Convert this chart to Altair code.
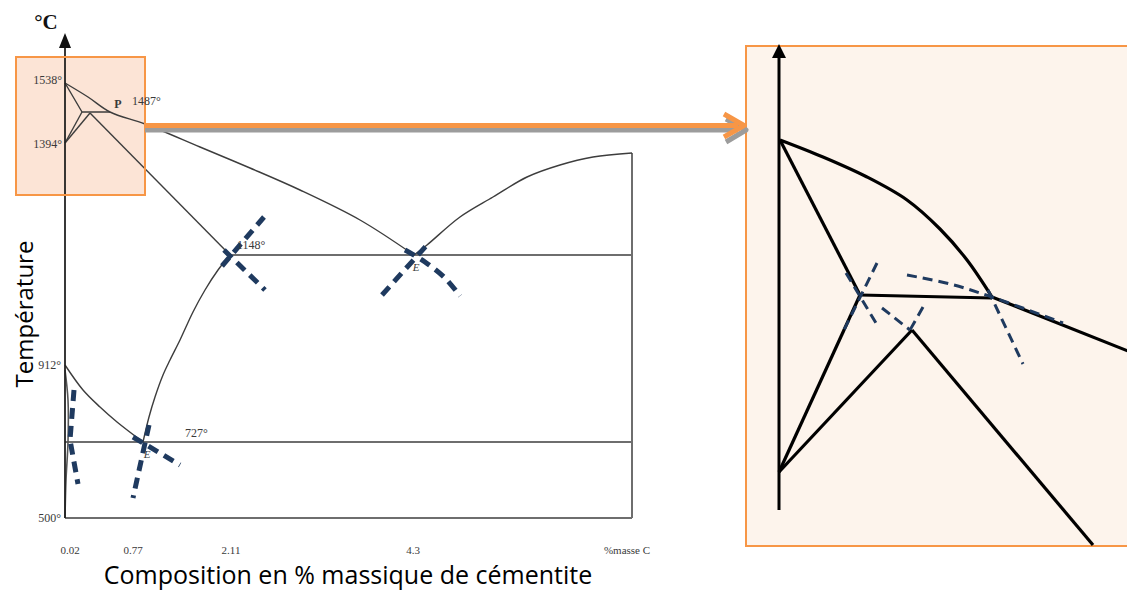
import altair as alt
import pandas as pd

# ---------------- Diagram geometry (image pixel coordinates) ----------------
# Left phase diagram
axis_left_x = [65, 65]
axis_left_y = [518, 46]
arrowhead_left_x = [59, 65, 71]
arrowhead_left_y = [48, 33, 48]

liquidus_left_x = [65, 88, 110, 145, 200, 250, 300, 360, 414]
liquidus_left_y = [83, 97, 112, 124, 147, 168, 190, 220, 255]
liquidus_right_x = [414, 427, 460, 493, 527, 560, 593, 632]
liquidus_right_y = [255, 245, 217, 197, 177, 165, 157, 153]
right_edge_x = [632, 632]
right_edge_y = [153, 518]
eutectic_x = [230, 632]
eutectic_y = [255, 255]
eutectoid_x = [65, 632]
eutectoid_y = [442, 442]
bottom_x = [65, 632]
bottom_y = [518, 518]
acm_x = [230, 218, 205, 193, 180, 170, 163, 155, 149, 143]
acm_y = [255, 270, 290, 312, 340, 360, 375, 397, 417, 442]
a3_x = [65, 83, 100, 117, 143]
a3_y = [365, 390, 407, 422, 442]
ferrite_x = [65, 68, 68, 66, 65]
ferrite_y = [370, 400, 442, 480, 518]
solidus_x = [90, 230]
solidus_y = [113, 255]
delta1_x = [65, 82, 110]
delta1_y = [83, 112, 112]
delta2_x = [65, 82]
delta2_y = [143, 112]
delta3_x = [65, 90]
delta3_y = [143, 113]

# thick dashed markers (left)
dl1_x = [74, 70, 78]; dl1_y = [390, 440, 484]
dl2_x = [149, 133]; dl2_y = [425, 498]
dl3_x = [133, 180]; dl3_y = [437, 465]
dl4_x = [222, 264]; dl4_y = [266, 217]
dl5_x = [224, 265]; dl5_y = [250, 290]
dl6_x = [382, 427]; dl6_y = [295, 245]
dl7_x = [405, 425, 445, 460]; dl7_y = [250, 262, 278, 296]

# orange zoom box, arrow
box_left = [16, 145, 57, 195]
box_right = [746, 1130, 46, 546]
arrow_x = [145, 738]; arrow_y = [125.5, 125.5]
arrow_sh_x = [145, 738]; arrow_sh_y = [130, 130]
chev_x = [724, 744, 724]; chev_y = [114, 125.5, 137]
chev_sh_x = [726, 746, 726]; chev_sh_y = [119, 130, 142]

# Right (zoomed) panel
axis_right_x = [779, 779]
axis_right_y = [510, 56]
arrowhead_right_x = [772, 779, 786]
arrowhead_right_y = [58, 44, 58]
r_curve_x = [780, 823, 867, 907, 940, 967, 992]
r_curve_y = [140, 157, 177, 200, 229, 260, 297]
r_out_x = [992, 1133]; r_out_y = [297, 353]
r_td_x = [780, 860]; r_td_y = [140, 295]
r_dq_x = [860, 992]; r_dq_y = [295, 298]
r_db_x = [860, 779]; r_db_y = [295, 472]
r_bc_x = [779, 912]; r_bc_y = [472, 330]
r_ce_x = [912, 1093]; r_ce_y = [330, 545]

dr1_x = [877, 843]; dr1_y = [263, 332]
dr2_x = [846, 876]; dr2_y = [273, 323]
dr3_x = [882, 910]; dr3_y = [308, 330]
dr4_x = [923, 910]; dr4_y = [307, 330]
dr5_x = [907, 950, 992, 1063]; dr5_y = [275, 284, 297, 323]
dr6_x = [988, 1023]; dr6_y = [290, 364]

# text labels
serif_labels = ["1538°", "1394°", "1487°", "1148°", "912°", "727°", "500°"]
serif_x = [62, 62, 132, 237, 61, 185, 61]
serif_y = [80, 144, 101, 245, 365, 433, 518]
serif_align = ["right", "right", "left", "left", "right", "left", "right"]
tick_labels = ["0.02", "0.77", "2.11", "4.3", "%masse C"]
tick_x = [70, 133, 231, 413, 627]
tick_y = [551, 551, 551, 551, 551]


def poly(name, xs, ys):
    return pd.DataFrame({"id": name, "o": range(len(xs)), "x": xs, "y": ys})


X = alt.X("x:Q", scale=alt.Scale(domain=[8, 1127]), axis=None)
Y = alt.Y("y:Q", scale=alt.Scale(domain=[8, 591], reverse=True), axis=None)


def lines(frames, color, width, dash=None, cap="butt", interp="linear"):
    df = pd.concat(frames, ignore_index=True)
    kw = dict(color=color, strokeWidth=width, strokeCap=cap, strokeJoin="round",
              interpolate=interp)
    if dash:
        kw["strokeDash"] = dash
    return alt.Chart(df).mark_line(**kw).encode(x=X, y=Y, detail="id:N", order="o:Q")


def tri(xs, ys, color):
    df = pd.DataFrame({"x": xs, "y": ys, "y2": [ys[0]] * len(xs)})
    return alt.Chart(df).mark_area(color=color, interpolate="linear").encode(
        x=X, y=Y, y2="y2:Q")


def rect(b, fill, stroke, sw):
    df = pd.DataFrame({"x": [b[0]], "x2": [b[1]], "y": [b[2]], "y2": [b[3]]})
    return alt.Chart(df).mark_rect(fill=fill, stroke=stroke, strokeWidth=sw).encode(
        x=X, x2="x2:Q", y=Y, y2="y2:Q")


def rect_border(b, stroke, sw):
    df = pd.DataFrame({"x": [b[0]], "x2": [b[1]], "y": [b[2]], "y2": [b[3]]})
    return alt.Chart(df).mark_rect(filled=False, stroke=stroke, strokeWidth=sw).encode(
        x=X, x2="x2:Q", y=Y, y2="y2:Q")


ORANGE = "#f79646"
NAVY = "#1f3a5f"

layers = []
layers.append(rect(box_left, "#fce4d6", ORANGE, 2))
layers.append(rect(box_right, "#fdf4ec", ORANGE, 2))

# straight thin lines of the left diagram
layers.append(lines([
    poly("edge", right_edge_x, right_edge_y),
    poly("eut", eutectic_x, eutectic_y),
    poly("eutd", eutectoid_x, eutectoid_y),
    poly("bot", bottom_x, bottom_y),
], "#6e6e6e", 2))
layers.append(lines([
    poly("sol", solidus_x, solidus_y),
    poly("d1", delta1_x, delta1_y),
    poly("d2", delta2_x, delta2_y),
    poly("d3", delta3_x, delta3_y),
], "#3d3d3d", 1.4))
# curved lines of the left diagram
layers.append(lines([
    poly("liqL", liquidus_left_x, liquidus_left_y),
    poly("liqR", liquidus_right_x, liquidus_right_y),
    poly("acm", acm_x, acm_y),
    poly("a3", a3_x, a3_y),
], "#3d3d3d", 1.4, interp="catmull-rom"))
layers.append(lines([poly("fer", ferrite_x, ferrite_y)], "#555555", 1.6, interp="catmull-rom"))
layers.append(lines([poly("axL", axis_left_x, axis_left_y)], "#222222", 1.8))
layers.append(tri(arrowhead_left_x, arrowhead_left_y, "#111111"))
layers.append(rect_border(box_left, ORANGE, 2))

# big orange arrow with grey shadow
layers.append(lines([poly("ash", arrow_sh_x, arrow_sh_y), poly("csh", chev_sh_x, chev_sh_y)],
                    "#9c9c9c", 5))
layers.append(lines([poly("arr", arrow_x, arrow_y), poly("chev", chev_x, chev_y)],
                    ORANGE, 5))

# left thick dashes
layers.append(lines([
    poly("l1", dl1_x, dl1_y), poly("l2", dl2_x, dl2_y), poly("l3", dl3_x, dl3_y),
    poly("l4", dl4_x, dl4_y), poly("l5", dl5_x, dl5_y), poly("l6", dl6_x, dl6_y),
], NAVY, 5, dash=[11, 7]))
layers.append(lines([poly("l7", dl7_x, dl7_y)], NAVY, 5, dash=[11, 7], interp="catmull-rom"))

# right panel
layers.append(lines([poly("axR", axis_right_x, axis_right_y)], "#000000", 3))
layers.append(tri(arrowhead_right_x, arrowhead_right_y, "#000000"))
layers.append(lines([poly("rc", r_curve_x, r_curve_y)], "#000000", 3.2, interp="catmull-rom"))
layers.append(lines([
    poly("ro", r_out_x, r_out_y),
    poly("rtd", r_td_x, r_td_y), poly("rdq", r_dq_x, r_dq_y),
    poly("rdb", r_db_x, r_db_y), poly("rbc", r_bc_x, r_bc_y),
    poly("rce", r_ce_x, r_ce_y),
], "#000000", 3.2))
layers.append(lines([
    poly("r1", dr1_x, dr1_y), poly("r2", dr2_x, dr2_y), poly("r3", dr3_x, dr3_y),
    poly("r4", dr4_x, dr4_y), poly("r6", dr6_x, dr6_y),
], NAVY, 3, dash=[10, 6]))
layers.append(lines([poly("r5", dr5_x, dr5_y)], NAVY, 3, dash=[10, 6], interp="catmull-rom"))

# texts
serif_df = pd.DataFrame({"t": serif_labels, "x": serif_x, "y": serif_y, "a": serif_align})
for al in ["left", "right"]:
    layers.append(alt.Chart(serif_df[serif_df.a == al]).mark_text(
        font="Liberation Serif", fontSize=12, color="#3a3a3a", align=al, baseline="middle"
    ).encode(x=X, y=Y, text="t:N"))

tick_df = pd.DataFrame({"t": tick_labels, "x": tick_x, "y": tick_y})
layers.append(alt.Chart(tick_df).mark_text(
    font="Liberation Serif", fontSize=11, color="#3a3a3a", align="center", baseline="middle"
).encode(x=X, y=Y, text="t:N"))

small_df = pd.DataFrame({"t": ["P", "E", "E"], "x": [118, 416, 147], "y": [104, 268, 455]})
layers.append(alt.Chart(small_df.iloc[[0]]).mark_text(
    font="Liberation Serif", fontSize=12, fontWeight="bold", color="#3a3a3a", align="center", baseline="middle"
).encode(x=X, y=Y, text="t:N"))
layers.append(alt.Chart(small_df.iloc[1:]).mark_text(
    font="Liberation Serif", fontSize=11, fontStyle="italic", color="#3a3a3a", align="center", baseline="middle"
).encode(x=X, y=Y, text="t:N"))

unit_df = pd.DataFrame({"t": ["°C"], "x": [46], "y": [23]})
layers.append(alt.Chart(unit_df).mark_text(
    font="Liberation Serif", fontSize=21, fontWeight="bold", color="#111111", align="center", baseline="middle"
).encode(x=X, y=Y, text="t:N"))

xt_df = pd.DataFrame({"t": ["Composition en % massique de cémentite"], "x": [348], "y": [584]})
layers.append(alt.Chart(xt_df).mark_text(
    font="Open Sans", fontSize=25, color="#000000", align="center", baseline="alphabetic"
).encode(x=X, y=Y, text="t:N"))
yt_df = pd.DataFrame({"t": ["Température"], "x": [26], "y": [314]})
layers.append(alt.Chart(yt_df).mark_text(
    font="Open Sans", fontSize=24, color="#000000", align="center", baseline="middle", angle=270
).encode(x=X, y=Y, text="t:N"))

chart = alt.layer(*layers).properties(
    width=1119, height=583, padding=0, autosize=alt.AutoSizeParams(type="none"),
    background="white"
).configure_view(stroke=None)

chart.save("out.html", embed_options={"renderer": "svg", "actions": False})
